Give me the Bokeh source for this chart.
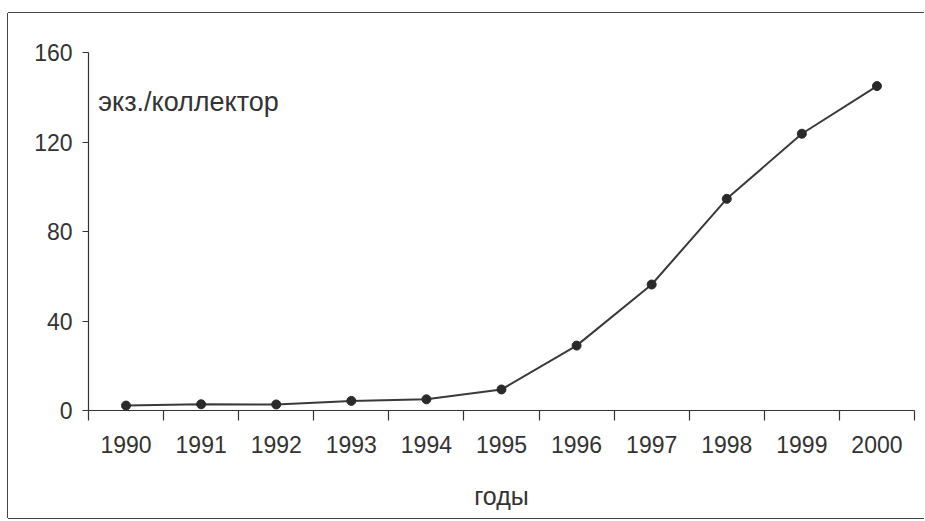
from bokeh.plotting import figure
from bokeh.models import Range1d, FixedTicker, Label, LinearAxis
from bokeh.embed import file_html
from bokeh.resources import INLINE

years = [1990, 1991, 1992, 1993, 1994, 1995, 1996, 1997, 1998, 1999, 2000]
values = [2.2, 2.8, 2.7, 4.3, 5.0, 9.4, 29.0, 56.3, 94.6, 123.7, 145.0]
y_ticks = [0, 40, 80, 120, 160]
y_label = "экз./коллектор"
x_label = "годы"

FONT = "Liberation Sans"
INK = "#333333"

p = figure(width=916, height=505, output_backend="svg", toolbar_location=None,
           x_range=Range1d(years[0] - 0.5, years[-1] + 0.5),
           y_range=Range1d(y_ticks[0], y_ticks[-1]),
           x_axis_type=None, y_axis_type=None,
           min_border_left=80, min_border_right=10, min_border_top=39, min_border_bottom=108)
p.styles = {"margin-left": "8px", "margin-top": "13px",
            "box-shadow": "-1px 0 0 #444, 0 -1px 0 #444, 0 1px 0 #444"}
p.outline_line_color = None
p.grid.visible = False
p.background_fill_color = "white"
p.border_fill_color = "white"

xaxis = LinearAxis(
    ticker=FixedTicker(ticks=years, minor_ticks=[y - 0.5 for y in years] + [years[-1] + 0.5]),
    major_label_overrides={y: str(y) for y in years},
    axis_label=x_label)
xaxis.major_tick_out = 0
xaxis.major_tick_in = 0
xaxis.minor_tick_out = 10
xaxis.minor_tick_in = 0
xaxis.minor_tick_line_color = INK
xaxis.minor_tick_line_width = 1.2
xaxis.axis_line_color = INK
xaxis.axis_line_width = 1.2
xaxis.major_label_text_font = FONT
xaxis.major_label_text_font_size = "23px"
xaxis.major_label_text_color = INK
xaxis.major_label_standoff = 15
xaxis.axis_label_text_font = FONT
xaxis.axis_label_text_font_size = "25px"
xaxis.axis_label_text_font_style = "normal"
xaxis.axis_label_text_color = INK
xaxis.axis_label_standoff = 26
p.add_layout(xaxis, "below")

yaxis = LinearAxis(ticker=FixedTicker(ticks=y_ticks, minor_ticks=[]))
yaxis.major_tick_out = 6
yaxis.major_tick_in = 0
yaxis.major_tick_line_color = INK
yaxis.major_tick_line_width = 1.2
yaxis.axis_line_color = INK
yaxis.axis_line_width = 1.2
yaxis.major_label_text_font = FONT
yaxis.major_label_text_font_size = "23px"
yaxis.major_label_text_color = INK
yaxis.major_label_standoff = 10
p.add_layout(yaxis, "left")

p.line(years, values, line_color="#3a3a3a", line_width=2)
p.scatter(years, values, size=9, fill_color="#2a2a2a", line_color="#2a2a2a")

p.add_layout(Label(x=years[0] - 0.5 + 0.13, y=138.0, text=y_label,
                   text_font=FONT, text_font_size="27px", text_color=INK,
                   text_baseline="alphabetic"))

open("out.html", "w").write(file_html(p, INLINE))
